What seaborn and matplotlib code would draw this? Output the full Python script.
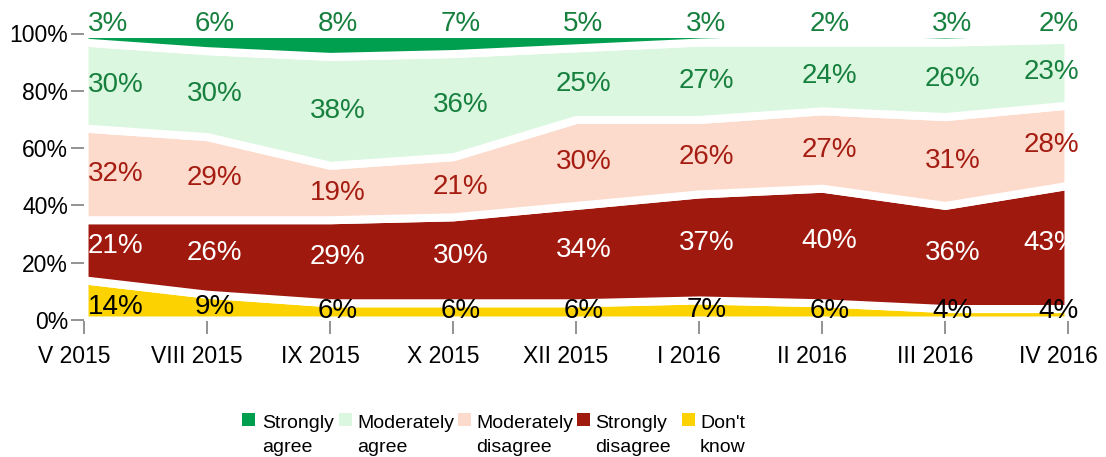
import numpy as np
import pandas as pd
import seaborn as sns
import matplotlib
matplotlib.use("Agg")
import matplotlib.pyplot as plt
from matplotlib.patches import Rectangle
from matplotlib.transforms import ScaledTranslation

# ---- data ----
periods = ["V 2015", "VIII 2015", "IX 2015", "X 2015", "XII 2015",
           "I 2016", "II 2016", "III 2016", "IV 2016"]
dont_know = [14, 9, 6, 6, 6, 7, 6, 4, 4]
strongly_disagree = [21, 26, 29, 30, 34, 37, 40, 36, 43]
moderately_disagree = [32, 29, 19, 21, 30, 26, 27, 31, 28]
moderately_agree = [30, 30, 38, 36, 25, 27, 24, 26, 23]
strongly_agree = [3, 6, 8, 7, 5, 3, 2, 3, 2]
y_ticks = [0, 20, 40, 60, 80, 100]
y_tick_labels = ["0%", "20%", "40%", "60%", "80%", "100%"]
legend_names = [("Strongly", "agree"), ("Moderately", "agree"),
                ("Moderately", "disagree"), ("Strongly", "disagree"),
                ("Don't", "know")]

# ---- style ----
sns.set_theme(style="white")
plt.rcParams["font.family"] = ["Liberation Sans", "DejaVu Sans"]

c_sa = "#009e4f"
c_ma = "#dbf7df"
c_md = "#fddbcc"
c_sd = "#a0190e"
c_dk = "#fcd300"
txt_green = "#17803f"
txt_red = "#a51d12"

W, H = 1106, 457
fig = plt.figure(figsize=(W / 100, H / 100), dpi=100)
ax = fig.add_axes([84 / W, 1 - 320 / H, 984 / W, 286.5 / H])

df = pd.DataFrame({
    "period": periods,
    "Don't know": dont_know,
    "Strongly disagree": strongly_disagree,
    "Moderately disagree": moderately_disagree,
    "Moderately agree": moderately_agree,
    "Strongly agree": strongly_agree,
})
layers = ["Don't know", "Strongly disagree", "Moderately disagree",
          "Moderately agree", "Strongly agree"]
colors = [c_dk, c_sd, c_md, c_ma, c_sa]
x = np.arange(len(periods))

ax.stackplot(x, *[df[c].values for c in layers], colors=colors,
             edgecolor="white", linewidth=5.8)

ax.set_xlim(0, len(periods) - 1)
ax.set_ylim(0, 100)
for s in ax.spines.values():
    s.set_visible(False)
ax.set_yticks(y_ticks)
ax.set_yticklabels(y_tick_labels)
ax.set_xticks(x)
ax.set_xticklabels(periods)
ax.tick_params(axis="y", left=True, length=9.5, width=1.2, color="#808080",
               pad=2, labelsize=16.5, labelcolor="black")
ax.tick_params(axis="x", bottom=True, length=10, width=1.2, color="#808080",
               pad=8, labelsize=16.5, labelcolor="black")
shift = ScaledTranslation(-0.10, 0, fig.dpi_scale_trans)
for lab in ax.get_xticklabels():
    lab.set_transform(lab.get_transform() + shift)
ax.grid(False)

# ---- value labels ----
cum = np.zeros(len(periods))
label_colors = ["black", "white", txt_red, txt_green, txt_green]
for k, (layer, tc) in enumerate(zip(layers, label_colors)):
    vals = df[layer].values.astype(float)
    centers = cum + vals / 2
    if k == 0:
        ys = np.clip(vals / 2, 3, 4.5)
    elif k == 1:
        ys = centers + 1.5
    elif k == 4:
        ys = np.full(len(vals), 103.2)
    else:
        ys = centers
    for i, (v, yy) in enumerate(zip(vals, ys)):
        if i == 0:
            xx, ha = 0.03, "left"
        elif i == len(periods) - 1:
            xx, ha = i + 0.09, "right"
        else:
            xx, ha = i + 0.06, "center"
        ax.text(xx, yy, f"{int(v)}%", ha=ha, va="center", color=tc,
                fontsize=20, clip_on=False)
    cum = cum + vals

# ---- legend (manual, patch aligned with first line) ----
patch_x = [242, 339, 458, 577, 682]
text_x = [262, 357, 476, 595, 700]
for px, tx, col, (l1, l2) in zip(patch_x, text_x, colors[::-1], legend_names):
    fig.add_artist(Rectangle((px / W, 1 - 426 / H), 13 / W, 13 / H,
                             transform=fig.transFigure, facecolor=col,
                             edgecolor="none"))
    fig.text(tx / W, 1 - 428 / H, l1, ha="left", va="baseline",
             fontsize=14, color="black")
    fig.text(tx / W, 1 - 452 / H, l2, ha="left", va="baseline",
             fontsize=14, color="black")

fig.savefig("out.png", dpi=100, facecolor="white")
